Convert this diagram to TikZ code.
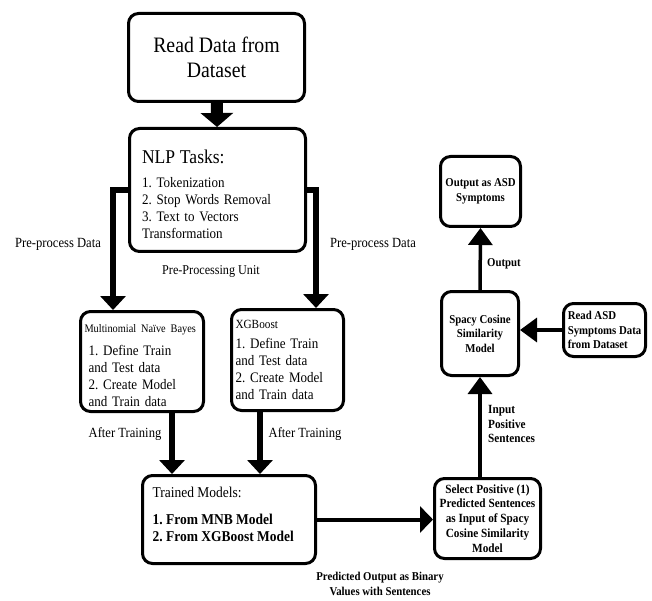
\documentclass[tikz,border=0pt]{standalone}
\usepackage{fontspec}
\setmainfont{Liberation Serif}[FakeStretch=0.9]
\usetikzlibrary{arrows.meta}
\frenchspacing

\tikzset{
  flowbox/.style={draw, line width=3pt, rounded corners=10pt, inner sep=0pt},
  blockflow/.style={line width=12pt, -{Triangle[width=32pt,length=14pt]}},
  thickflow/.style={line width=6pt, -{Triangle[width=25pt,length=14pt]}},
  midflow/.style={line width=4pt, -{Triangle[width=26pt,length=13pt]}},
  thinflow/.style={line width=3.5pt, -{Triangle[width=24pt,length=17pt]}},
  flowlabel/.style={inner sep=0pt, font=\fontsize{14}{16}\selectfont},
  boldlabel/.style={inner sep=0pt, font=\bfseries\fontsize{12}{14.5}\selectfont},
}

\begin{document}
\begin{tikzpicture}[x=1pt,y=-1pt]
    \useasboundingbox (0,0) rectangle (652,601);

    % Draw boxes on the left
    \node[flowbox, minimum width=176pt, minimum height=88pt, align=center,
          font=\fontsize{22}{25}\selectfont] (readdata) at (216.5,57.5)
          {Read Data from\\Dataset};
    \node[flowbox, minimum width=176pt, minimum height=123pt, align=left, text width=151pt,
          font=\fontsize{14.5}{17}\selectfont] (nlp) at (217.5,190)
          {{\fontsize{19.5}{22}\selectfont\rule{0pt}{22pt}NLP Tasks:}\\[7pt]
           1. Tokenization\\2. Stop Words Removal\\3. Text to Vectors\\Transformation};
    \node[flowbox, minimum width=123pt, minimum height=100pt, align=left, text width=115pt,
          font=\fontsize{14.5}{17}\selectfont] (mnb) at (142,361.5)
          {{\fontsize{11.5}{13}\selectfont\rule{0pt}{16pt}Multinomial Naïve Bayes}\\[6pt]
           \hspace*{4pt}1. Define Train\\\hspace*{4pt}and Test data\\
           \hspace*{4pt}2. Create Model\\\hspace*{4pt}and Train data};
    \node[flowbox, minimum width=112pt, minimum height=101pt, align=left, text width=104pt,
          font=\fontsize{14.5}{17}\selectfont] (xgb) at (287.5,360)
          {{\fontsize{12.5}{14}\selectfont XGBoost}\\[3pt]
           1. Define Train\\and Test data\\2. Create Model\\and Train data};
    \node[flowbox, minimum width=173pt, minimum height=88pt,
          font=\fontsize{15}{17}\selectfont] (trained) at (229,519.5)
          {\parbox[c][64pt][t]{153pt}{Trained Models:\\[10pt]
           \textbf{1. From MNB Model}\\\textbf{2. From XGBoost Model}}};

    % Draw boxes on the right
    \node[flowbox, minimum width=80pt, minimum height=70pt, align=center,
          font=\bfseries\fontsize{12}{14.5}\selectfont] (outputasd) at (480.5,191.5)
          {Output as ASD\\Symptoms};
    \node[flowbox, minimum width=77pt, minimum height=84pt, align=center,
          font=\bfseries\fontsize{12}{14.5}\selectfont] (spacy) at (480,333.5)
          {Spacy Cosine\\Similarity\\Model};
    \node[flowbox, minimum width=82pt, minimum height=53pt, align=left,
          font=\bfseries\fontsize{12}{14.5}\selectfont] (readasd) at (604.5,330)
          {Read ASD\\Symptoms Data\\from Dataset};
    \node[flowbox, minimum width=106pt, minimum height=80pt, align=center,
          font=\bfseries\fontsize{12.5}{14.8}\selectfont] (select) at (487.5,518.5)
          {Select Positive (1)\\Predicted Sentences\\as Input of Spacy\\Cosine Similarity\\Model};

    % Draw arrows
    \draw[blockflow] (readdata) -- (nlp);
    \draw[thickflow] (nlp.west) -| ([xshift=-29pt]mnb.north);
    \draw[thickflow] (nlp.east) -| ([xshift=28.5pt]xgb.north);
    \draw[thickflow] ([xshift=30pt]mnb.south) -- ([xshift=30pt]mnb.south |- trained.north);
    \draw[thickflow] ([xshift=-27.5pt]xgb.south) -- ([xshift=-27.5pt]xgb.south |- trained.north);
    \draw[midflow] (trained.east) -- (trained.east -| select.west);
    \draw[thinflow] (spacy.south |- select.north) -- (spacy.south);
    \draw[thinflow] (readasd.west) -- (readasd.west -| spacy.east);
    \draw[thinflow] (spacy.north) -- (outputasd.south);

    % Labels
    \node[flowlabel] (ppleft) at (58,244) {Pre-process Data};
    \node[flowlabel] (ppright) at (373,244) {Pre-process Data};
    \node[flowlabel, font=\fontsize{13.5}{16}\selectfont] (ppunit) at (211,271) {Pre-Processing Unit};
    \node[flowlabel] (trainleft) at (125,434) {After Training};
    \node[flowlabel] (trainright) at (305,434) {After Training};
    \node[boldlabel, anchor=west] (outlabel) at (487,264) {Output};
    \node[boldlabel, anchor=west, align=left, font=\bfseries\fontsize{12.5}{14.5}\selectfont]
          (inlabel) at (488,424) {Input\\Positive\\Sentences};
    \node[boldlabel, align=center] (predlabel) at (380,584)
          {Predicted Output as Binary\\Values with Sentences};
\end{tikzpicture}
\end{document}
